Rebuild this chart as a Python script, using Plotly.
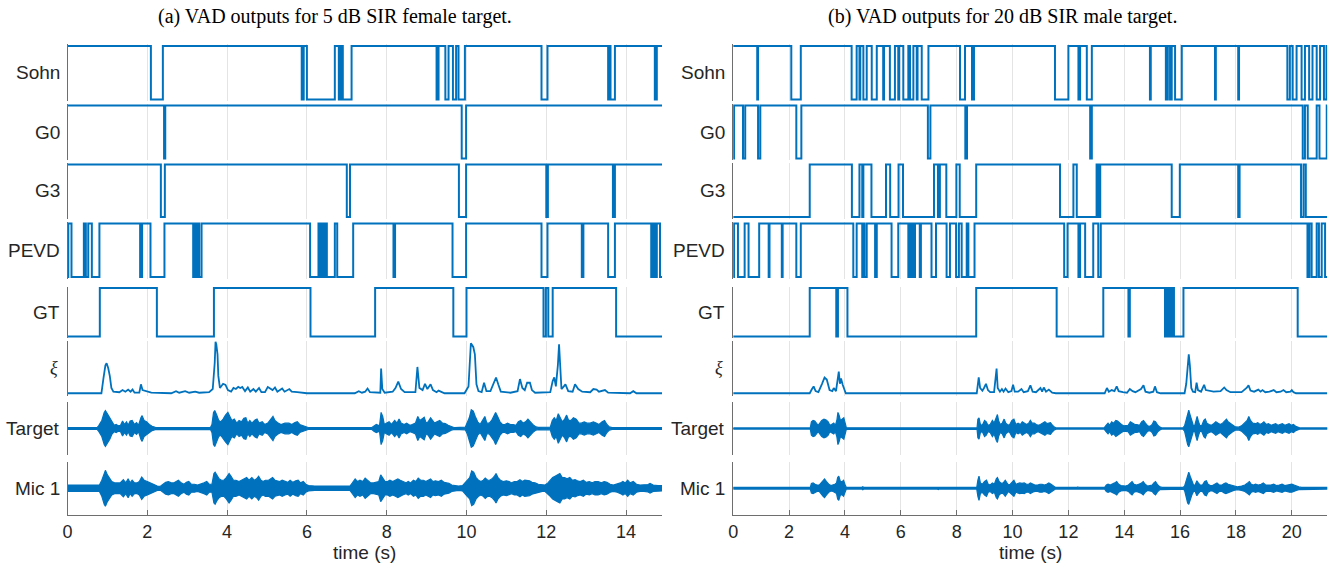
import plotly.graph_objects as go

W, H = 1334, 567
BLUE = "#0072BD"

# ---------------- data ----------------
XMAX_A = 14.9
XMAX_B = 21.27
row_names = ["Sohn", "G0", "G3", "PEVD", "GT", "<i>ξ</i>", "Target", "Mic 1"]
tick_vals_a = [0, 2, 4, 6, 8, 10, 12, 14]
tick_vals_b = [0, 2, 4, 6, 8, 10, 12, 14, 16, 18, 20]

# binary VAD outputs: initial state + toggle times (s)
sohn_a_start = 1
sohn_a_edges = [2.09, 2.39, 5.87, 5.92, 6.00, 6.70, 6.80, 6.85, 6.90, 7.12, 9.25, 9.30, 9.47, 9.55,
                9.66, 9.74, 9.80, 9.96, 11.88, 12.03, 13.55, 13.58, 13.61, 13.72, 14.72, 14.77]
g0_a_start = 1
g0_a_edges = [2.42, 2.45, 9.88, 9.99]
g3_a_start = 1
g3_a_edges = [2.34, 2.44, 7.00, 7.08, 9.81, 9.99, 12.00, 12.04, 13.67, 13.72]
pevd_a_start = 0
pevd_a_edges = [0.02, 0.10, 0.41, 0.46, 0.52, 0.61, 0.80, 1.82, 1.87, 2.08, 2.43, 3.15, 3.20, 3.24,
                3.28, 3.30, 3.36, 6.08, 6.29, 6.33, 6.37, 6.41, 6.45, 6.50, 6.70, 6.76, 7.16, 8.17,
                8.21, 9.65, 9.99, 11.88, 12.03, 12.89, 12.93, 13.55, 13.72, 14.63, 14.67, 14.72,
                14.77, 14.85]
gt_a_start = 0
gt_a_edges = [0.81, 2.24, 3.67, 6.09, 7.71, 9.67, 10.00, 11.93, 11.99, 12.05, 12.16, 13.75]

sohn_b_start = 1
sohn_b_edges = [0.86, 0.89, 2.08, 2.42, 4.24, 4.42, 4.52, 4.55, 4.66, 4.78, 4.96, 5.14, 5.37, 5.40,
                5.61, 5.79, 5.91, 5.94, 6.09, 6.27, 6.33, 6.45, 6.57, 6.60, 6.75, 6.99, 8.12, 8.30,
                8.55, 8.62, 11.52, 12.00, 12.36, 12.42, 12.66, 12.84, 14.92, 14.95, 15.49, 15.56,
                15.64, 15.70, 15.82, 16.06, 17.25, 17.28, 18.08, 18.11, 19.84, 19.93, 20.03, 20.17,
                20.35, 20.47, 20.62, 20.74, 20.89, 21.01, 21.15, 21.24]
g0_b_start = 0
g0_b_edges = [0.03, 0.35, 0.43, 0.89, 0.97, 2.26, 2.44, 6.97, 7.06, 8.31, 8.37, 12.78, 12.84,
              20.39, 20.47, 20.57, 20.89, 20.99, 21.25]
g3_b_start = 0
g3_b_edges = [2.74, 4.25, 4.52, 4.62, 4.66, 4.95, 5.47, 5.62, 5.92, 6.08, 7.19, 7.33, 7.40, 7.63,
              7.99, 8.11, 8.70, 11.70, 12.18, 12.30, 13.01, 13.08, 13.14, 15.70, 15.99, 18.08,
              18.13, 20.33, 20.42, 20.50]
pevd_b_start = 0
pevd_b_edges = [0.03, 0.17, 0.41, 0.55, 0.93, 1.27, 1.30, 1.74, 1.77, 2.26, 2.42, 4.30, 4.42, 4.62,
                4.66, 4.70, 4.78, 5.08, 5.14, 5.67, 5.91, 6.27, 6.32, 6.38, 6.44, 6.47, 6.51, 6.68,
                6.72, 7.10, 7.26, 7.64, 7.76, 7.98, 8.08, 8.18, 8.36, 8.42, 8.64, 11.85, 11.97,
                12.36, 12.42, 12.60, 12.89, 13.07, 13.16, 20.56, 20.63, 20.71, 20.89, 20.97, 21.07,
                21.19]
gt_b_start = 0
gt_b_edges = [2.74, 3.69, 3.75, 4.09, 8.70, 11.58, 13.25, 14.15, 14.20, 15.46, 15.52, 15.56, 15.61,
              15.66, 15.73, 15.78, 16.12, 20.21]

# xi (normalised) : (time, value)
xi_a = [(0, 0.02), (0.85, 0.02), (0.90, 0.3), (0.95, 0.55), (0.98, 0.59), (1.02, 0.5), (1.06, 0.35),
        (1.10, 0.12), (1.15, 0.05), (1.30, 0.04), (1.38, 0.08), (1.45, 0.05), (1.52, 0.09), (1.58, 0.05),
        (1.63, 0.09), (1.68, 0.03), (1.80, 0.03), (1.84, 0.19), (1.88, 0.08), (1.95, 0.06), (2.1, 0.03),
        (2.6, 0.02), (2.72, 0.06), (2.8, 0.03), (2.95, 0.06), (3.05, 0.03), (3.2, 0.05), (3.3, 0.03),
        (3.55, 0.04), (3.64, 0.1), (3.69, 0.6), (3.71, 1.0), (3.73, 0.95), (3.76, 0.76), (3.78, 0.35),
        (3.82, 0.12), (3.9, 0.2), (3.96, 0.18), (4.02, 0.08), (4.1, 0.05), (4.16, 0.12), (4.22, 0.1),
        (4.28, 0.14), (4.33, 0.12), (4.38, 0.14), (4.45, 0.06), (4.52, 0.13), (4.58, 0.05), (4.66, 0.1),
        (4.72, 0.05), (4.8, 0.12), (4.86, 0.04), (4.95, 0.04), (5.02, 0.14), (5.08, 0.11), (5.14, 0.08),
        (5.20, 0.13), (5.26, 0.05), (5.38, 0.11), (5.44, 0.05), (5.56, 0.1), (5.62, 0.05), (5.76, 0.04),
        (6.0, 0.02), (7.2, 0.02), (7.3, 0.06), (7.38, 0.03), (7.46, 0.05), (7.52, 0.11), (7.58, 0.04),
        (7.84, 0.03), (7.86, 0.49), (7.89, 0.1), (7.95, 0.03), (8.15, 0.05), (8.22, 0.12), (8.29, 0.24),
        (8.36, 0.1), (8.45, 0.04), (8.72, 0.04), (8.77, 0.52), (8.82, 0.12), (8.9, 0.08), (8.96, 0.2),
        (9.02, 0.1), (9.1, 0.19), (9.16, 0.08), (9.25, 0.04), (9.3, 0.07), (9.45, 0.02), (9.95, 0.02),
        (10.05, 0.15), (10.11, 0.97), (10.17, 0.9), (10.21, 0.76), (10.25, 0.19), (10.3, 0.06),
        (10.38, 0.04), (10.44, 0.22), (10.5, 0.06), (10.6, 0.06), (10.68, 0.2), (10.74, 0.32),
        (10.8, 0.18), (10.86, 0.05), (11.1, 0.03), (11.28, 0.06), (11.34, 0.29), (11.4, 0.12),
        (11.46, 0.08), (11.52, 0.22), (11.59, 0.22), (11.64, 0.08), (11.72, 0.03), (12.1, 0.04),
        (12.16, 0.25), (12.2, 0.32), (12.24, 0.15), (12.29, 0.55), (12.32, 0.95), (12.35, 0.4),
        (12.38, 0.1), (12.44, 0.15), (12.48, 0.19), (12.55, 0.06), (12.66, 0.05), (12.72, 0.19),
        (12.8, 0.1), (12.9, 0.05), (13.1, 0.04), (13.18, 0.1), (13.26, 0.09), (13.32, 0.05),
        (13.42, 0.08), (13.47, 0.08), (13.55, 0.03), (14.1, 0.02), (14.18, 0.06), (14.26, 0.02),
        (14.9, 0.02)]
xi_b = [(0, 0.02), (2.74, 0.02), (2.82, 0.1), (2.88, 0.15), (2.95, 0.06), (3.05, 0.04), (3.18, 0.2),
        (3.27, 0.32), (3.35, 0.28), (3.45, 0.08), (3.55, 0.06), (3.6, 0.12), (3.68, 0.06), (3.74, 0.3),
        (3.78, 0.43), (3.82, 0.2), (3.86, 0.3), (3.92, 0.18), (3.98, 0.1), (4.03, 0.02), (8.72, 0.02),
        (8.76, 0.2), (8.79, 0.32), (8.84, 0.12), (8.92, 0.07), (8.98, 0.12), (9.05, 0.2), (9.12, 0.08),
        (9.2, 0.04), (9.34, 0.04), (9.40, 0.35), (9.43, 0.49), (9.47, 0.12), (9.55, 0.05), (9.62, 0.1),
        (9.68, 0.05), (9.75, 0.11), (9.85, 0.04), (9.96, 0.06), (10.02, 0.18), (10.08, 0.05),
        (10.2, 0.05), (10.32, 0.1), (10.4, 0.04), (10.55, 0.06), (10.64, 0.17), (10.72, 0.05),
        (10.84, 0.04), (11.0, 0.12), (11.06, 0.05), (11.12, 0.13), (11.2, 0.05), (11.3, 0.09),
        (11.42, 0.03), (11.55, 0.02), (13.3, 0.02), (13.38, 0.12), (13.45, 0.05), (13.55, 0.08),
        (13.65, 0.06), (13.73, 0.15), (13.8, 0.06), (13.95, 0.04), (14.1, 0.03), (14.2, 0.1),
        (14.3, 0.06), (14.4, 0.04), (14.6, 0.1), (14.69, 0.17), (14.76, 0.05), (14.9, 0.03),
        (15.04, 0.05), (15.1, 0.15), (15.17, 0.04), (15.3, 0.02), (16.16, 0.02), (16.22, 0.2),
        (16.27, 0.6), (16.31, 0.76), (16.35, 0.55), (16.40, 0.12), (16.46, 0.05), (16.54, 0.04),
        (16.59, 0.22), (16.64, 0.08), (16.75, 0.05), (16.86, 0.18), (16.92, 0.08), (17.05, 0.06),
        (17.2, 0.05), (17.45, 0.06), (17.58, 0.13), (17.66, 0.08), (17.8, 0.04), (18.2, 0.04),
        (18.38, 0.12), (18.45, 0.17), (18.52, 0.07), (18.65, 0.05), (18.8, 0.09), (18.88, 0.05),
        (18.95, 0.08), (19.05, 0.04), (19.2, 0.05), (19.35, 0.08), (19.45, 0.04), (19.6, 0.05),
        (19.7, 0.08), (19.8, 0.04), (19.95, 0.05), (20.0, 0.08), (20.06, 0.04), (20.15, 0.02),
        (21.27, 0.02)]

# waveform envelopes (time, half-amplitude, normalised)
tgt_a = [(0, 0.03), (0.74, 0.03), (0.78, 0.1), (0.86, 0.3), (0.92, 0.6), (0.95, 0.67), (1.0, 0.55),
         (1.06, 0.4), (1.11, 0.22), (1.17, 0.12), (1.22, 0.15), (1.27, 0.1), (1.33, 0.12), (1.38, 0.28),
         (1.43, 0.15), (1.48, 0.25), (1.52, 0.12), (1.57, 0.28), (1.62, 0.3), (1.68, 0.15), (1.73, 0.22),
         (1.78, 0.12), (1.84, 0.4), (1.87, 0.48), (1.92, 0.3), (1.98, 0.25), (2.05, 0.15), (2.12, 0.08),
         (2.2, 0.04), (2.3, 0.03), (3.58, 0.03), (3.62, 0.15), (3.66, 0.6), (3.69, 0.67), (3.74, 0.5),
         (3.79, 0.3), (3.84, 0.25), (3.9, 0.35), (3.96, 0.5), (4.02, 0.6), (4.07, 0.45), (4.12, 0.3),
         (4.18, 0.35), (4.24, 0.2), (4.3, 0.3), (4.36, 0.25), (4.42, 0.38), (4.47, 0.4), (4.52, 0.2),
         (4.57, 0.3), (4.62, 0.2), (4.7, 0.32), (4.75, 0.35), (4.8, 0.2), (4.88, 0.25), (4.94, 0.15),
         (5.02, 0.2), (5.1, 0.35), (5.15, 0.45), (5.2, 0.3), (5.28, 0.2), (5.35, 0.15), (5.45, 0.2),
         (5.55, 0.2), (5.62, 0.15), (5.7, 0.22), (5.76, 0.25), (5.82, 0.15), (5.9, 0.1), (5.98, 0.06),
         (6.05, 0.03), (7.62, 0.03), (7.68, 0.1), (7.74, 0.15), (7.82, 0.1), (7.86, 0.6), (7.9, 0.45),
         (7.94, 0.15), (8.0, 0.2), (8.06, 0.25), (8.12, 0.15), (8.2, 0.3), (8.26, 0.2), (8.31, 0.35),
         (8.36, 0.2), (8.44, 0.15), (8.5, 0.2), (8.58, 0.12), (8.64, 0.15), (8.72, 0.2), (8.78, 0.45),
         (8.83, 0.3), (8.88, 0.35), (8.94, 0.42), (8.99, 0.2), (9.04, 0.25), (9.1, 0.4), (9.15, 0.3),
         (9.2, 0.2), (9.26, 0.25), (9.33, 0.3), (9.4, 0.2), (9.47, 0.18), (9.54, 0.12), (9.62, 0.06),
         (9.7, 0.03), (9.97, 0.05), (10.02, 0.2), (10.07, 0.4), (10.12, 0.7), (10.17, 0.65),
         (10.22, 0.45), (10.28, 0.25), (10.34, 0.15), (10.4, 0.3), (10.46, 0.45), (10.51, 0.2),
         (10.57, 0.2), (10.63, 0.3), (10.69, 0.45), (10.73, 0.6), (10.78, 0.45), (10.84, 0.25),
         (10.9, 0.15), (10.96, 0.15), (11.03, 0.2), (11.1, 0.15), (11.17, 0.15), (11.24, 0.12),
         (11.3, 0.25), (11.36, 0.3), (11.42, 0.2), (11.48, 0.25), (11.54, 0.35), (11.6, 0.25),
         (11.66, 0.15), (11.74, 0.06), (11.8, 0.04), (12.1, 0.05), (12.15, 0.3), (12.2, 0.4),
         (12.25, 0.3), (12.3, 0.55), (12.35, 0.4), (12.4, 0.25), (12.46, 0.35), (12.51, 0.5),
         (12.56, 0.3), (12.62, 0.3), (12.68, 0.4), (12.75, 0.35), (12.82, 0.2), (12.88, 0.2),
         (12.95, 0.25), (13.02, 0.2), (13.1, 0.2), (13.18, 0.25), (13.25, 0.2), (13.32, 0.15),
         (13.4, 0.25), (13.46, 0.3), (13.52, 0.15), (13.58, 0.06), (13.65, 0.03), (14.9, 0.03)]
mic_a = [(0, 0.12), (0.8, 0.12), (0.86, 0.3), (0.92, 0.6), (0.95, 0.67), (1.0, 0.5), (1.06, 0.35),
         (1.11, 0.25), (1.18, 0.2), (1.25, 0.2), (1.32, 0.2), (1.4, 0.32), (1.46, 0.2), (1.52, 0.35),
         (1.57, 0.2), (1.62, 0.3), (1.68, 0.2), (1.74, 0.2), (1.8, 0.25), (1.86, 0.42), (1.92, 0.3),
         (2.0, 0.25), (2.08, 0.2), (2.16, 0.15), (2.25, 0.08), (2.32, 0.07), (2.4, 0.15), (2.46, 0.22),
         (2.53, 0.25), (2.6, 0.2), (2.66, 0.2), (2.72, 0.25), (2.78, 0.3), (2.85, 0.2), (2.92, 0.15),
         (2.98, 0.22), (3.04, 0.25), (3.1, 0.15), (3.18, 0.15), (3.26, 0.12), (3.34, 0.15), (3.42, 0.2),
         (3.49, 0.25), (3.55, 0.15), (3.62, 0.15), (3.67, 0.55), (3.7, 0.6), (3.75, 0.45), (3.8, 0.35),
         (3.86, 0.3), (3.92, 0.3), (3.98, 0.4), (4.05, 0.55), (4.1, 0.45), (4.16, 0.3), (4.22, 0.3),
         (4.3, 0.25), (4.36, 0.3), (4.42, 0.35), (4.49, 0.4), (4.55, 0.3), (4.62, 0.4), (4.68, 0.3),
         (4.74, 0.35), (4.79, 0.45), (4.85, 0.3), (4.9, 0.25), (4.96, 0.3), (5.04, 0.3), (5.1, 0.35),
         (5.14, 0.4), (5.2, 0.3), (5.26, 0.28), (5.32, 0.25), (5.38, 0.3), (5.45, 0.25), (5.52, 0.22),
         (5.58, 0.3), (5.65, 0.22), (5.72, 0.28), (5.78, 0.3), (5.84, 0.2), (5.91, 0.25), (5.97, 0.15),
         (6.04, 0.1), (6.2, 0.08), (7.08, 0.08), (7.14, 0.2), (7.21, 0.35), (7.27, 0.25), (7.33, 0.3),
         (7.4, 0.25), (7.46, 0.38), (7.52, 0.3), (7.6, 0.2), (7.67, 0.2), (7.74, 0.22), (7.8, 0.25),
         (7.85, 0.5), (7.9, 0.4), (7.96, 0.25), (8.02, 0.25), (8.08, 0.3), (8.15, 0.25), (8.22, 0.3),
         (8.28, 0.35), (8.34, 0.3), (8.4, 0.25), (8.48, 0.2), (8.54, 0.25), (8.6, 0.2), (8.67, 0.3),
         (8.73, 0.25), (8.79, 0.38), (8.85, 0.3), (8.92, 0.3), (8.98, 0.25), (9.04, 0.3), (9.1, 0.35),
         (9.16, 0.25), (9.22, 0.28), (9.3, 0.25), (9.37, 0.3), (9.44, 0.22), (9.5, 0.2), (9.56, 0.18),
         (9.63, 0.12), (9.71, 0.1), (9.8, 0.08), (9.9, 0.1), (9.96, 0.2), (10.02, 0.3), (10.08, 0.4),
         (10.13, 0.65), (10.18, 0.6), (10.24, 0.4), (10.3, 0.3), (10.36, 0.25), (10.42, 0.3),
         (10.47, 0.38), (10.53, 0.3), (10.58, 0.3), (10.64, 0.35), (10.7, 0.45), (10.74, 0.55),
         (10.79, 0.4), (10.85, 0.3), (10.92, 0.25), (11.0, 0.28), (11.07, 0.25), (11.13, 0.2),
         (11.2, 0.25), (11.27, 0.25), (11.34, 0.32), (11.4, 0.25), (11.46, 0.3), (11.52, 0.3),
         (11.58, 0.28), (11.64, 0.22), (11.72, 0.2), (11.8, 0.15), (11.9, 0.12), (11.97, 0.12),
         (12.04, 0.2), (12.1, 0.3), (12.16, 0.4), (12.22, 0.45), (12.28, 0.5), (12.34, 0.55),
         (12.4, 0.4), (12.46, 0.4), (12.52, 0.35), (12.59, 0.4), (12.65, 0.3), (12.72, 0.32),
         (12.78, 0.28), (12.85, 0.25), (12.93, 0.3), (13.0, 0.22), (13.08, 0.25), (13.15, 0.2),
         (13.22, 0.25), (13.3, 0.25), (13.38, 0.2), (13.45, 0.25), (13.52, 0.22), (13.6, 0.15),
         (13.68, 0.12), (13.78, 0.15), (13.86, 0.2), (13.92, 0.25), (13.98, 0.2), (14.04, 0.3),
         (14.1, 0.2), (14.18, 0.25), (14.26, 0.15), (14.35, 0.12), (14.45, 0.12), (14.55, 0.14),
         (14.6, 0.18), (14.68, 0.12), (14.8, 0.1), (14.9, 0.1)]
tgt_b = [(0, 0.02), (2.76, 0.02), (2.8, 0.25), (2.86, 0.3), (2.92, 0.28), (2.98, 0.2), (3.04, 0.12),
         (3.1, 0.2), (3.17, 0.3), (3.25, 0.35), (3.33, 0.32), (3.4, 0.25), (3.46, 0.12), (3.52, 0.15),
         (3.6, 0.2), (3.66, 0.12), (3.71, 0.3), (3.75, 0.6), (3.79, 0.5), (3.84, 0.3), (3.9, 0.35),
         (3.96, 0.4), (4.01, 0.2), (4.05, 0.03), (8.73, 0.02), (8.76, 0.35), (8.8, 0.4), (8.85, 0.15),
         (8.92, 0.12), (9.0, 0.3), (9.06, 0.25), (9.12, 0.12), (9.2, 0.15), (9.28, 0.3), (9.34, 0.2),
         (9.42, 0.45), (9.46, 0.52), (9.5, 0.3), (9.56, 0.15), (9.63, 0.2), (9.7, 0.35), (9.76, 0.2),
         (9.84, 0.12), (9.9, 0.15), (9.98, 0.3), (10.05, 0.35), (10.12, 0.15), (10.2, 0.2),
         (10.28, 0.15), (10.35, 0.25), (10.42, 0.2), (10.5, 0.15), (10.58, 0.2), (10.64, 0.3),
         (10.7, 0.2), (10.78, 0.2), (10.85, 0.15), (10.92, 0.12), (11.0, 0.15), (11.08, 0.2),
         (11.16, 0.25), (11.24, 0.18), (11.3, 0.2), (11.36, 0.22), (11.43, 0.12), (11.5, 0.05),
         (11.58, 0.02), (13.28, 0.02), (13.35, 0.12), (13.42, 0.2), (13.48, 0.12), (13.55, 0.25),
         (13.62, 0.2), (13.7, 0.3), (13.76, 0.28), (13.84, 0.2), (13.9, 0.15), (13.98, 0.1),
         (14.05, 0.1), (14.14, 0.12), (14.22, 0.25), (14.3, 0.2), (14.38, 0.15), (14.45, 0.15),
         (14.55, 0.12), (14.62, 0.25), (14.69, 0.3), (14.76, 0.2), (14.84, 0.1), (14.92, 0.08),
         (15.0, 0.15), (15.06, 0.28), (15.12, 0.25), (15.2, 0.12), (15.28, 0.05), (15.36, 0.02),
         (16.1, 0.02), (16.16, 0.1), (16.22, 0.35), (16.27, 0.6), (16.31, 0.68), (16.36, 0.5),
         (16.42, 0.3), (16.47, 0.12), (16.52, 0.1), (16.57, 0.3), (16.61, 0.45), (16.66, 0.25),
         (16.71, 0.1), (16.78, 0.12), (16.85, 0.3), (16.9, 0.35), (16.96, 0.2), (17.04, 0.15),
         (17.12, 0.12), (17.2, 0.18), (17.28, 0.25), (17.36, 0.2), (17.44, 0.15), (17.52, 0.2),
         (17.6, 0.3), (17.66, 0.35), (17.72, 0.25), (17.8, 0.2), (17.88, 0.12), (17.98, 0.06),
         (18.1, 0.05), (18.2, 0.1), (18.3, 0.2), (18.4, 0.3), (18.46, 0.45), (18.52, 0.3), (18.6, 0.2),
         (18.7, 0.18), (18.78, 0.22), (18.86, 0.15), (18.94, 0.2), (19.0, 0.25), (19.08, 0.15),
         (19.16, 0.18), (19.26, 0.12), (19.34, 0.15), (19.42, 0.18), (19.5, 0.12), (19.58, 0.15),
         (19.66, 0.18), (19.75, 0.12), (19.84, 0.15), (19.9, 0.18), (19.98, 0.12), (20.06, 0.15),
         (20.14, 0.08), (20.22, 0.05), (20.3, 0.02), (21.27, 0.02)]
mic_b = [(0, 0.03), (2.76, 0.03), (2.8, 0.18), (2.86, 0.2), (2.93, 0.15), (3.0, 0.12), (3.08, 0.12),
         (3.15, 0.2), (3.22, 0.3), (3.27, 0.35), (3.34, 0.25), (3.42, 0.15), (3.5, 0.1), (3.58, 0.12),
         (3.64, 0.15), (3.7, 0.2), (3.74, 0.4), (3.78, 0.45), (3.84, 0.25), (3.9, 0.25), (3.95, 0.3),
         (4.0, 0.15), (4.05, 0.03), (4.6, 0.03), (4.64, 0.06), (4.68, 0.03), (5.3, 0.03), (5.34, 0.05),
         (5.38, 0.03), (7.3, 0.03), (7.34, 0.05), (7.38, 0.03), (8.72, 0.03), (8.76, 0.3), (8.8, 0.45),
         (8.85, 0.2), (8.92, 0.15), (9.0, 0.25), (9.07, 0.3), (9.13, 0.15), (9.2, 0.12), (9.28, 0.2),
         (9.35, 0.15), (9.42, 0.35), (9.46, 0.4), (9.52, 0.25), (9.6, 0.18), (9.67, 0.2), (9.74, 0.3),
         (9.8, 0.2), (9.86, 0.12), (9.92, 0.15), (10.0, 0.25), (10.05, 0.3), (10.12, 0.15), (10.2, 0.18),
         (10.26, 0.2), (10.34, 0.18), (10.42, 0.2), (10.5, 0.15), (10.58, 0.15), (10.64, 0.2),
         (10.72, 0.15), (10.8, 0.12), (10.9, 0.12), (10.98, 0.15), (11.06, 0.15), (11.14, 0.12),
         (11.22, 0.15), (11.3, 0.2), (11.38, 0.15), (11.46, 0.08), (11.54, 0.03), (12.3, 0.03),
         (12.34, 0.05), (12.38, 0.03), (13.3, 0.03), (13.36, 0.12), (13.42, 0.15), (13.5, 0.12),
         (13.58, 0.15), (13.66, 0.2), (13.73, 0.25), (13.8, 0.15), (13.88, 0.1), (13.95, 0.08),
         (14.05, 0.08), (14.15, 0.12), (14.22, 0.2), (14.28, 0.25), (14.35, 0.15), (14.44, 0.12),
         (14.52, 0.15), (14.6, 0.18), (14.68, 0.25), (14.75, 0.15), (14.84, 0.08), (14.92, 0.1),
         (15.0, 0.12), (15.06, 0.2), (15.12, 0.25), (15.2, 0.12), (15.28, 0.05), (15.36, 0.03),
         (16.1, 0.03), (16.16, 0.08), (16.22, 0.3), (16.27, 0.55), (16.31, 0.6), (16.36, 0.45),
         (16.42, 0.25), (16.48, 0.12), (16.54, 0.12), (16.6, 0.28), (16.65, 0.2), (16.72, 0.12),
         (16.8, 0.12), (16.88, 0.25), (16.94, 0.28), (17.0, 0.15), (17.08, 0.1), (17.16, 0.1),
         (17.24, 0.15), (17.32, 0.2), (17.4, 0.12), (17.5, 0.12), (17.58, 0.18), (17.64, 0.2),
         (17.72, 0.15), (17.82, 0.12), (17.92, 0.08), (18.05, 0.05), (18.2, 0.08), (18.32, 0.12),
         (18.42, 0.2), (18.48, 0.25), (18.55, 0.15), (18.62, 0.12), (18.7, 0.15), (18.8, 0.12),
         (18.9, 0.15), (18.98, 0.2), (19.06, 0.12), (19.15, 0.12), (19.25, 0.12), (19.35, 0.15),
         (19.45, 0.1), (19.55, 0.12), (19.65, 0.15), (19.75, 0.1), (19.85, 0.12), (19.92, 0.15),
         (20.0, 0.15), (20.08, 0.12), (20.16, 0.08), (20.25, 0.05), (20.35, 0.03), (21.27, 0.03)]

title_a = "(a) VAD outputs for 5 dB SIR female target."
title_b = "(b) VAD outputs for 20 dB SIR male target."
xlabel = "time (s)"

# ---------------- layout geometry (pixels) ----------------
PANEL_X = [(67.5, 662.0), (733.2, 1327.3)]
XMAX = [XMAX_A, XMAX_B]
BIN_ROWS = [(46, 99.5), (105.5, 158.5), (164.5, 217), (223.5, 277), (288, 336.5)]
XI_ROW = (341.7, 394.3)
WAVE_ROWS = [(401.7, 455.3), (461.5, 515.0)]
PAD = 0.03

def ydom(top_px, bot_px):
    return [1 - bot_px / H, 1 - top_px / H]

def steps(start, edges, xmax):
    xs, ys = [0.0], [start]
    s = start
    for e in edges:
        s = 1 - s
        xs.append(e)
        ys.append(s)
    xs.append(xmax)
    ys.append(s)
    return xs, ys

panels = [
    dict(bins=[(sohn_a_start, sohn_a_edges), (g0_a_start, g0_a_edges), (g3_a_start, g3_a_edges),
               (pevd_a_start, pevd_a_edges), (gt_a_start, gt_a_edges)],
         xi=xi_a, waves=[tgt_a, mic_a], ticks=tick_vals_a, title=title_a),
    dict(bins=[(sohn_b_start, sohn_b_edges), (g0_b_start, g0_b_edges), (g3_b_start, g3_b_edges),
               (pevd_b_start, pevd_b_edges), (gt_b_start, gt_b_edges)],
         xi=xi_b, waves=[tgt_b, mic_b], ticks=tick_vals_b, title=title_b),
]

fig = go.Figure()
layout = {}
annotations = []
GRID = "#e4e4e4"
AXC = "#6e6e6e"
TXT = "#262626"

n = 0
for p, panel in enumerate(panels):
    x0, x1 = PANEL_X[p]
    xdom = [x0 / W, x1 / W]
    xmax = XMAX[p]
    for r in range(8):
        n += 1
        xa = "x" if n == 1 else f"x{n}"
        ya = "y" if n == 1 else f"y{n}"
        xk = "xaxis" if n == 1 else f"xaxis{n}"
        yk = "yaxis" if n == 1 else f"yaxis{n}"
        bottom = (r == 7)
        if r < 5:
            t1, b0 = BIN_ROWS[r]
            h = b0 - t1
            dom = ydom(t1 - PAD * h, b0 + PAD * h)
            yr = [-PAD, 1 + PAD]
            st, ed = panel["bins"][r]
            xs, ys = steps(st, ed, xmax)
            fig.add_trace(go.Scatter(x=xs, y=ys, mode="lines", line=dict(color=BLUE, width=2.0, shape="hv"),
                                     xaxis=xa, yaxis=ya, showlegend=False, hoverinfo="skip"))
            ycen = (t1 + b0) / 2
        elif r == 5:
            t1, b0 = XI_ROW
            h = b0 - t1
            dom = ydom(t1 - 0.015 * h, b0 + 0.03 * h)
            yr = [-0.03, 1.015]
            xs = [a for a, _ in panel["xi"]]
            ys = [b for _, b in panel["xi"]]
            fig.add_trace(go.Scatter(x=xs, y=ys, mode="lines", line=dict(color=BLUE, width=1.8),
                                     xaxis=xa, yaxis=ya, showlegend=False, hoverinfo="skip"))
            ycen = (t1 + b0) / 2
        else:
            tp, bp = WAVE_ROWS[r - 6]
            dom = ydom(tp, bp)
            yr = [-1, 1]
            env = panel["waves"][r - 6]
            ts = [a for a, _ in env]
            am = [b for _, b in env]
            fig.add_trace(go.Scatter(x=ts + ts[::-1], y=am + [-v for v in am[::-1]], mode="lines",
                                     fill="toself", fillcolor=BLUE, line=dict(color=BLUE, width=1.2),
                                     xaxis=xa, yaxis=ya, showlegend=False, hoverinfo="skip"))
            ycen = (tp + bp) / 2
        layout[xk] = dict(domain=xdom, range=[0, xmax], anchor=ya, showgrid=True, gridcolor=GRID,
                          gridwidth=1, tickvals=panel["ticks"], zeroline=False,
                          showticklabels=bottom, ticks="inside" if bottom else "",
                          ticklen=5, tickcolor=AXC, showline=bottom, linecolor=AXC, linewidth=1,
                          tickfont=dict(family="Liberation Sans", size=18, color=TXT),
                          automargin=False, fixedrange=True)
        layout[yk] = dict(domain=dom, range=yr, anchor=xa, showgrid=False, zeroline=False,
                          showticklabels=False, ticks="", showline=True, linecolor=AXC, linewidth=1,
                          automargin=False, fixedrange=True)
        name = row_names[r]
        if r == 5:
            annotations.append(dict(text=name, x=(x0 - 8) / W, y=1 - ycen / H, xref="paper", yref="paper",
                                    xanchor="right", yanchor="middle", showarrow=False,
                                    font=dict(family="Liberation Serif", size=18, color=TXT)))
        else:
            annotations.append(dict(text=name, x=(x0 - 6) / W, y=1 - ycen / H, xref="paper", yref="paper",
                                    xanchor="right", yanchor="middle", showarrow=False,
                                    font=dict(family="Liberation Sans", size=19, color=TXT)))
    annotations.append(dict(text=xlabel, x=(x0 + x1) / 2 / W, y=1 - 552 / H, xref="paper", yref="paper",
                            xanchor="center", yanchor="middle", showarrow=False,
                            font=dict(family="Liberation Sans", size=19, color=TXT)))
    cx = 335 if p == 0 else 1002
    annotations.append(dict(text=panel["title"], x=cx / W, y=1 - 17 / H, xref="paper", yref="paper",
                            xanchor="center", yanchor="middle", showarrow=False,
                            font=dict(family="Liberation Serif", size=20, color="#000000")))

fig.update_layout(width=W, height=H, margin=dict(l=0, r=0, t=0, b=0, pad=0), paper_bgcolor="white",
                  plot_bgcolor="white", showlegend=False, annotations=annotations, **layout)
fig.write_html("out.html", config={"displayModeBar": False},
               post_script="document.body.style.margin='0';document.body.style.overflow='hidden';")
